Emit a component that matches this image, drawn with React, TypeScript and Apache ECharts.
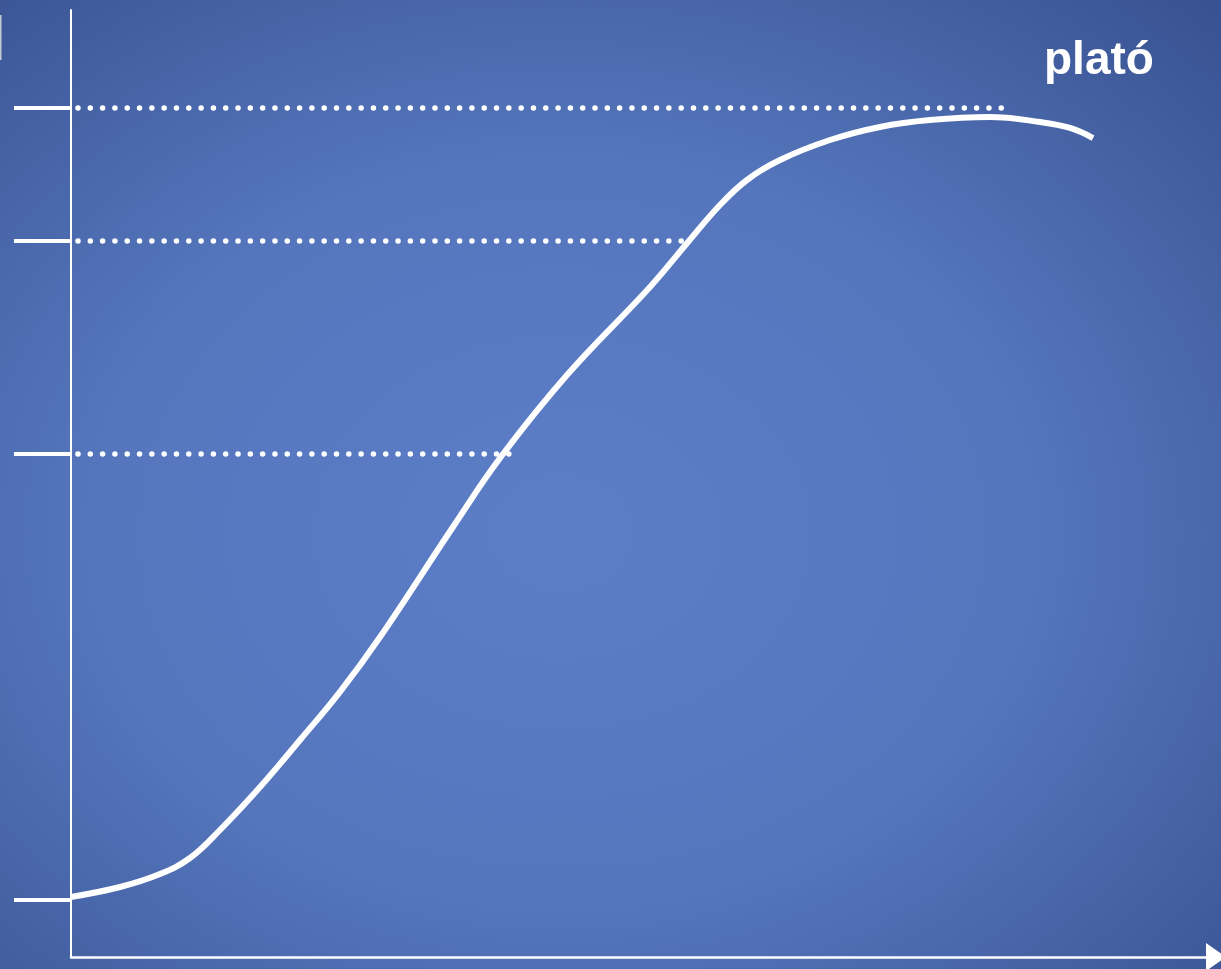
import React, { useEffect, useRef } from "react";
import * as echarts from "echarts";

// Curve (x: time units 0-100, y: level 0-100)
const curveX = [0, 4.28, 7.77, 10.39, 13.01, 16.51, 20.0, 23.49, 26.99, 33.36, 37.47, 43.32, 50.57, 53.89, 56.68, 59.04, 61.92, 66.29, 70.66, 75.02, 80.26, 84.63, 87.25, 89.26];
const curveY = [6.34, 7.39, 8.76, 10.45, 13.41, 17.95, 22.91, 28.0, 33.79, 45.41, 52.69, 61.46, 70.75, 75.5, 79.41, 82.05, 84.16, 86.27, 87.65, 88.38, 88.7, 88.17, 87.54, 86.48];

// Marked levels on the vertical axis
const levelValues = [6.02, 53.11, 75.61, 89.65];
// Dotted guide lines: level and where they end
const guideLevels = [53.11, 75.61, 89.65];
const guideEnds = [38.52, 54.06, 82.18];
const guideStart = 0.61;

const labelText = "plató";

export default function App() {
  const ref = useRef<HTMLDivElement>(null);
  useEffect(() => {
    if (!ref.current) return;
    const chart = echarts.init(ref.current, null, { renderer: "svg" });
    const guideSeries = guideLevels.map((lv, i) => ({
      type: "line",
      data: [
        [guideStart, lv],
        [guideEnds[i], lv],
      ],
      symbol: "none",
      silent: true,
      z: 1,
      lineStyle: { color: "#ffffff", width: 5.5, type: [0.01, 12.3], cap: "round" },
    }));
    chart.setOption({
      animation: false,
      backgroundColor: {
        type: "radial",
        x: 0.46,
        y: 0.55,
        r: 0.85,
        colorStops: [
          { offset: 0, color: "#5c7ec7" },
          { offset: 0.45, color: "#5576bd" },
          { offset: 1, color: "#324a87" },
        ],
      },
      grid: { left: 71, top: 10, right: 5, bottom: 12 },
      xAxis: {
        type: "value",
        min: 0,
        max: 100,
        axisLine: {
          show: true,
          symbol: ["none", "triangle"],
          symbolSize: [28, 20],
          lineStyle: { color: "#ffffff", width: 2.5 },
        },
        axisTick: { show: false },
        axisLabel: { show: false },
        splitLine: { show: false },
      },
      yAxis: {
        type: "value",
        min: 0,
        max: 100,
        axisLine: { show: true, lineStyle: { color: "#ffffff", width: 2 } },
        axisTick: {
          show: true,
          customValues: levelValues,
          length: 57,
          lineStyle: { color: "#ffffff", width: 4 },
        },
        axisLabel: { show: false },
        splitLine: { show: false },
      },
      graphic: [
        {
          type: "text",
          left: 1044,
          top: 35,
          style: {
            text: labelText,
            fill: "#ffffff",
            font: "bold 46px 'Liberation Sans', Arial, sans-serif",
          },
        },
        {
          type: "rect",
          shape: { x: 0, y: 15, width: 1.5, height: 45 },
          style: { fill: "#c4c9d4" },
        },
      ],
      series: [
        ...guideSeries,
        {
          type: "line",
          data: curveX.map((x, i) => [x, curveY[i]]),
          smooth: 0.4,
          symbol: "none",
          z: 3,
          lineStyle: { color: "#ffffff", width: 6 },
        },
      ],
    });
    return () => chart.dispose();
  }, []);
  return (
    <div
      ref={ref}
      style={{ position: "fixed", left: 0, top: 0, width: 1221, height: 969 }}
    />
  );
}
